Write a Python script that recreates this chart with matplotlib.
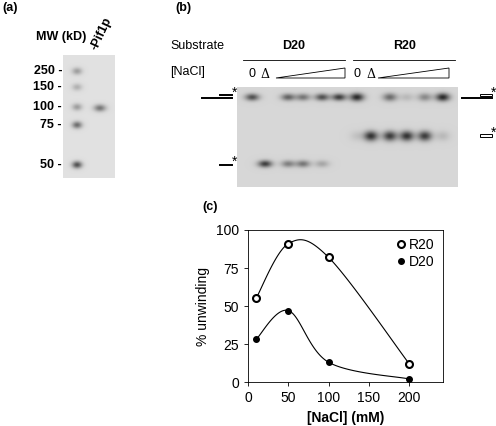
import numpy as np
import matplotlib
matplotlib.use("Agg")
import matplotlib.pyplot as plt
from matplotlib.patches import Polygon, Rectangle

plt.rcParams['font.family'] = ['Liberation Sans', 'DejaVu Sans']

# ---- data ----
nacl = [10, 50, 100, 200]
r20 = [55, 91, 82, 12]
d20 = [28, 47, 13, 2]
xticks = [0, 50, 100, 150, 200]
yticks = [0, 25, 50, 75, 100]

mw_labels = ["250", "150", "100", "75", "50"]
mw_band_int = [0.35, 0.25, 0.35, 0.6, 0.75]
pif1_band_int = [0.0, 0.0, 0.55, 0.0, 0.0]

lane_labels = ["0", "Δ"]
d20_top = [0.7, 0.0, 0.6, 0.5, 0.7, 0.8]
d20_prod = [0.0, 0.8, 0.45, 0.5, 0.25, 0.0]
r20_top = [0.9, 0.0, 0.55, 0.15, 0.4, 0.9]
r20_prod = [0.1, 0.85, 0.8, 0.85, 0.8, 0.15]

W, H = 496, 426
fig = plt.figure(figsize=(W/100, H/100), dpi=100)
ov = fig.add_axes([0, 0, 1, 1])
ov.set_xlim(0, W); ov.set_ylim(H, 0); ov.axis('off')

def gel(x0, x1, y0, y1, lanes, bg=0.83):
    nx, ny = int((x1-x0)*2), int((y1-y0)*2)
    xs = np.linspace(x0, x1, nx); ys = np.linspace(y0, y1, ny)
    X, Y = np.meshgrid(xs, ys)
    img = np.full_like(X, bg)
    for (lx, ly, inten, w, h) in lanes:
        img -= inten*0.75*np.exp(-((X-lx)/w)**2 - ((Y-ly)/h)**2)
    ov.imshow(np.clip(img, 0, 1), cmap='gray', vmin=0, vmax=1,
              extent=[x0, x1, y1, y0], aspect='auto', zorder=1, interpolation='bilinear')

# ---- panel (a) ----
mw_y = [71, 87, 107, 125, 165]
bands = []
for y, i in zip(mw_y, mw_band_int):
    bands.append((77, y, i, 5, 3.5))
for y, i in zip(mw_y, pif1_band_int):
    if i > 0:
        bands.append((100, y+1, i, 6, 3.5))
gel(63, 115, 55, 178, bands, bg=0.88)
for y, t in zip(mw_y, mw_labels):
    ov.text(62, y, t + " -", ha='right', va='center', fontsize=9, fontweight='bold')
ov.text(36, 37, "MW (kD)", fontsize=9, fontweight='bold', va='center')
ov.text(100, 52, "-Pif1p", fontsize=9, fontweight='bold', rotation=65, ha='left', va='bottom', rotation_mode='anchor')
ov.text(2, 8, "(a)", fontsize=9, fontweight='bold', va='center')

# ---- panel (b) ----
d20_x = [252, 265, 288, 303, 322, 339]
r20_x = [357, 371, 390, 407, 425, 443]
bands = []
for x, a, b in zip(d20_x, d20_top, d20_prod):
    bands.append((x, 97, a, 7, 3.5)); bands.append((x, 164, b, 7, 3.5))
for x, a, b in zip(r20_x, r20_top, r20_prod):
    bands.append((x, 97, a, 7, 4)); bands.append((x, 136, b, 7, 5))
gel(237, 458, 87, 187, bands, bg=0.84)
ov.text(175, 8, "(b)", fontsize=9, fontweight='bold', va='center')
ov.text(170, 46, "Substrate", fontsize=9, va='center')
ov.text(294, 46, "D20", fontsize=9, fontweight='bold', ha='center', va='center')
ov.text(405, 46, "R20", fontsize=9, fontweight='bold', ha='center', va='center')
ov.plot([243, 345], [60, 60], color='k', lw=0.6)
ov.plot([353, 455], [60, 60], color='k', lw=0.6)
ov.text(170, 72, "[NaCl]", fontsize=9, va='center')
for xs in (d20_x, r20_x):
    ov.text(xs[0], 74, lane_labels[0], fontsize=9, ha='center', va='center')
    ov.text(xs[1], 74, lane_labels[1], fontsize=9, ha='center', va='center', family='DejaVu Serif')
    ov.add_patch(Polygon([[xs[2]-12, 78], [xs[5]+6, 78], [xs[5]+6, 68]], closed=True,
                         fill=False, ec='k', lw=0.6))
# duplex markers
ov.plot([202, 232], [98, 98], color='k', lw=1.4)
ov.plot([220, 232], [95, 95], color='k', lw=1.4)
ov.text(232, 93, "*", fontsize=10, va='center')
ov.plot([220, 232], [165, 165], color='k', lw=1.4)
ov.text(232, 162, "*", fontsize=10, va='center')
ov.plot([462, 492], [98, 98], color='k', lw=1.4)
ov.add_patch(Rectangle((480, 93.5), 12, 2.5, fill=False, ec='k', lw=0.7))
ov.text(491, 93, "*", fontsize=10, va='center')
ov.add_patch(Rectangle((480, 134), 12, 2.5, fill=False, ec='k', lw=0.7))
ov.text(491, 133, "*", fontsize=10, va='center')
ov.text(202, 207, "(c)", fontsize=9, fontweight='bold', va='center')

# ---- panel (c) ----
ax = fig.add_axes([248/W, 1-382/H, (443-248)/W, (382-230)/H])

def catmull(x, y, n=40):
    P = np.column_stack([x, y]).astype(float)
    P = np.vstack([P[0], P, P[-1]])
    out = []
    for i in range(1, len(P)-2):
        p0, p1, p2, p3 = P[i-1], P[i], P[i+1], P[i+2]
        t = np.linspace(0, 1, n)[:, None]
        m1 = (p2 - p0)/2; m2 = (p3 - p1)/2
        h00 = 2*t**3-3*t**2+1; h10 = t**3-2*t**2+t; h01 = -2*t**3+3*t**2; h11 = t**3-t**2
        out.append(h00*p1 + h10*m1 + h01*p2 + h11*m2)
    return np.vstack(out)

for ys in (r20, d20):
    c = catmull(nacl, ys)
    ax.plot(c[:, 0], c[:, 1], color='k', lw=0.8)
ax.plot(nacl, r20, 'o', mfc='white', mec='k', mew=1.5, ms=5, label='R20', ls='none')
ax.plot(nacl, d20, 'o', color='k', ms=4, label='D20', ls='none')
ax.set_xlim(0, 242); ax.set_ylim(0, 100)
ax.set_xticks(xticks); ax.set_yticks(yticks)
ax.tick_params(labelsize=10, direction='out', length=3, width=0.6)
for s in ax.spines.values():
    s.set_linewidth(0.6)
ax.set_xlabel("[NaCl] (mM)", fontsize=10, fontweight='bold')
ax.set_ylabel("% unwinding", fontsize=10)
ax.legend(loc='upper right', frameon=False, fontsize=10, handletextpad=0.1,
          borderaxespad=0.2, labelspacing=0.2, handlelength=1)

fig.savefig("out.png", dpi=100)
